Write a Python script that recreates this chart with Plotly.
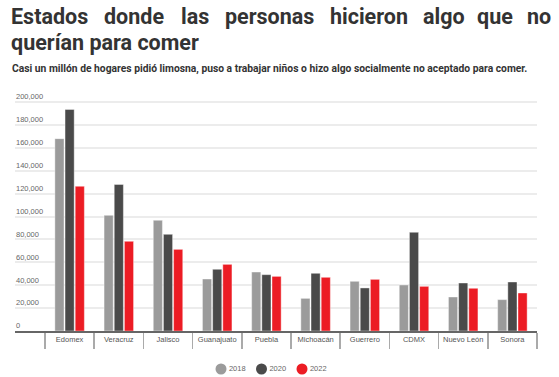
import plotly.graph_objects as go

categories = ["Edomex", "Veracruz", "Jalisco", "Guanajuato", "Puebla",
              "Michoacán", "Guerrero", "CDMX", "Nuevo León", "Sonora"]
v2018 = [168000, 101000, 96700, 45400, 51500, 28500, 43400, 40200, 29700, 27400]
v2020 = [193500, 128000, 84400, 53900, 49200, 50400, 37600, 86200, 41900, 42800]
v2022 = [126400, 78300, 71300, 58200, 47700, 46900, 45100, 39000, 37300, 33200]
years = ["2018", "2020", "2022"]
colors = ["#9b9b9b", "#4a4a4a", "#ec1c24"]
series_values = [v2018, v2020, v2022]

title_line1 = ["Estados", "donde", "las", "personas", "hicieron", "algo", "que", "no"]
title_line2 = "querían para comer"
subtitle = "Casi un millón de hogares pidió limosna, puso a trabajar niños o hizo algo socialmente no aceptado para comer."

W, H = 559, 377
L, R, T = 15, 22, 84
PLOT_BOTTOM = 331
PW = W - L - R
PH = PLOT_BOTTOM - T
YMAX = 200000 * PH / 229
PAPER_H = H - T

def px(x):
    return (x - L) / PW

def py(y):
    return (H - y) / PAPER_H

fig = go.Figure()
for name, vals, col in zip(years, series_values, colors):
    fig.add_trace(go.Bar(x=categories, y=vals, name=name, showlegend=False,
                         marker=dict(color=col, line=dict(color="rgba(255,255,255,0.4)", width=1))))

# legend row (circles + labels) on its own hidden axes
LEG_X0, LEG_STEP, LEG_Y, LEG_H = 221, 40.5, 369, 16
r0 = -(LEG_X0 - L) / LEG_STEP
r1 = r0 + PW / LEG_STEP
fig.add_trace(go.Scatter(x=list(range(len(years))), y=[0] * len(years), text=years,
                         mode="markers+text", textposition="middle right",
                         marker=dict(color=colors, size=11, symbol="circle"),
                         textfont=dict(family="Liberation Sans", size=7.5, color="#666666"),
                         xaxis="x2", yaxis="y2", showlegend=False, cliponaxis=False,
                         hoverinfo="skip"))

ann = []
title_font = dict(family="Roboto", size=21.5, color="#333333", weight="bold")
word_x = [11, 104, 181, 225, 330, 423, 477, 527]
for w, x in zip(title_line1, word_x):
    ann.append(dict(text=w, x=px(x - 2), y=py(17), xref="paper", yref="paper", xanchor="left",
                    yanchor="middle", showarrow=False, font=title_font))
ann.append(dict(text=title_line2, x=px(11 - 2), y=py(43), xref="paper", yref="paper", xanchor="left",
                yanchor="middle", showarrow=False, font=title_font))
ann.append(dict(text=subtitle, x=px(12 - 2), y=py(68), xref="paper", yref="paper", xanchor="left",
                yanchor="middle", showarrow=False,
                font=dict(family="Roboto", size=10.3, color="#333333", weight="bold")))

fig.update_layout(
    width=W, height=H,
    margin=dict(l=L, r=R, t=T, b=0, pad=0, autoexpand=False),
    paper_bgcolor="white", plot_bgcolor="rgba(0,0,0,0)",
    barmode="group", bargap=0.38, bargroupgap=0.1,
    annotations=ann, showlegend=False, hovermode=False,
    xaxis=dict(type="category", range=[-1.11, 9.5], showline=True, linecolor="#666666", linewidth=2,
               ticks="outside", tickson="boundaries", ticklen=16, tickcolor="#aaaaaa", tickwidth=1.5,
               ticklabelstandoff=0, showgrid=False, tickangle=0, automargin=False, fixedrange=True,
               tickfont=dict(family="Liberation Sans", size=7.5, color="#555555")),
    yaxis=dict(domain=[(H - PLOT_BOTTOM) / PAPER_H, 1], range=[0, YMAX],
               tickvals=list(range(0, 200001, 20000)), tickformat=",d",
               ticklabelposition="inside top", ticklabelstandoff=-2, showgrid=True,
               gridcolor="#ececec", gridwidth=2, fixedrange=True,
               zeroline=False, showline=False, ticks="", automargin=False,
               tickfont=dict(family="Liberation Sans", size=7.5, color="#666666")),
    xaxis2=dict(anchor="y2", domain=[0, 1], range=[r0, r1], visible=False, fixedrange=True),
    yaxis2=dict(anchor="x2", domain=[(H - LEG_Y - LEG_H / 2) / PAPER_H, (H - LEG_Y + LEG_H / 2) / PAPER_H],
                range=[-1, 1], visible=False, fixedrange=True),
)
fig.write_html("out.html", config={"displayModeBar": False, "staticPlot": True},
               post_script="document.body.style.margin='0';")
